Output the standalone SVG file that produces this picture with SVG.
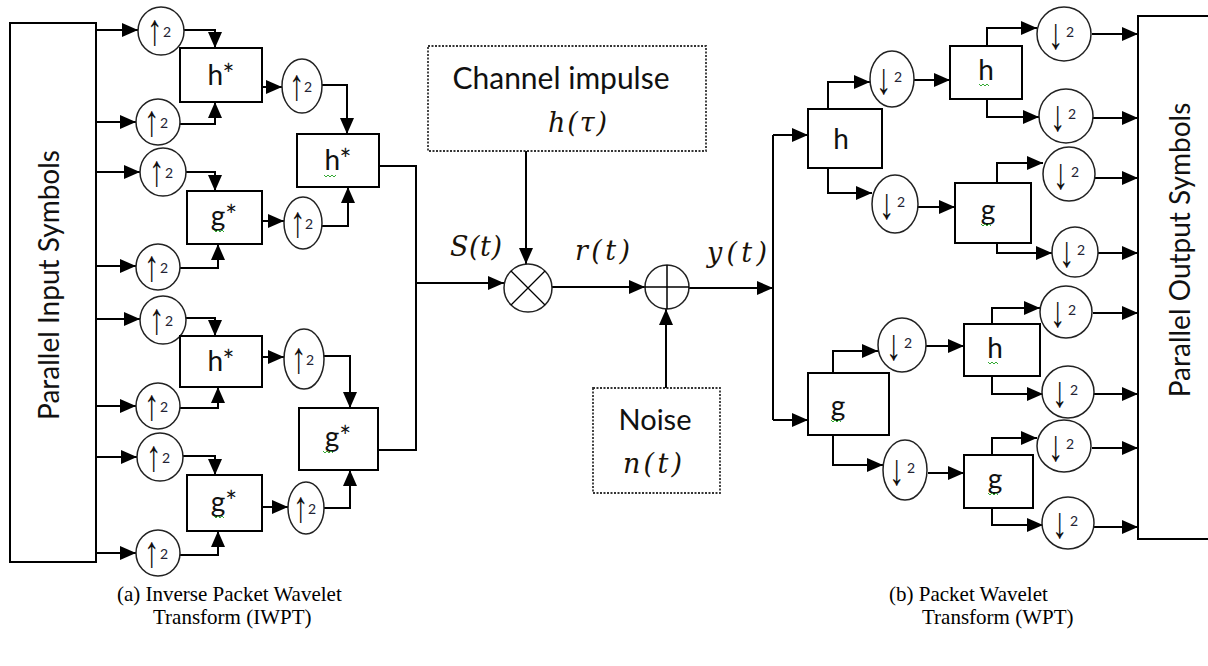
<svg xmlns="http://www.w3.org/2000/svg" width="1208" height="666" viewBox="0 0 1208 666">
<defs>
<marker id="ah" markerUnits="userSpaceOnUse" markerWidth="16" markerHeight="14" refX="16" refY="7" orient="auto">
<path d="M0,0 L16,7 L0,14 z" fill="#000"/>
</marker>
<style>
.box{fill:#fff;stroke:#000;stroke-width:2}
.dot{fill:#fff;stroke:#333;stroke-width:1.8;stroke-dasharray:2 1.5}
.cir{fill:#fff;stroke:#222;stroke-width:1.5}
.ln{fill:none;stroke:#000;stroke-width:2}
.arw{fill:none;stroke:#000;stroke-width:2;marker-end:url(#ah)}
.lbl{font-family:Lato,"Open Sans",sans-serif;font-size:28px;fill:#111;text-anchor:middle}
.sym{font-family:"Liberation Sans",sans-serif;font-size:44px;fill:#111}
.two{font-family:Lato,sans-serif;font-size:14px;fill:#223}
.math{font-family:"DejaVu Serif",serif;font-style:italic;font-size:27px;fill:#1a1208}
.cap{font-family:"Liberation Serif",serif;font-size:21px;fill:#000}
.sq{fill:none;stroke:#3a3;stroke-width:1}
</style>
</defs>

<g id="connectors">
<path class="arw" d="M92,30 H138"/>
<path class="arw" d="M96,122 H136"/>
<path class="arw" d="M96,172 H140"/>
<path class="arw" d="M96,266 H136"/>
<path class="arw" d="M96,319 H140"/>
<path class="arw" d="M96,406 H136"/>
<path class="arw" d="M92,457 H137"/>
<path class="arw" d="M96,553 H136"/>
<path class="arw" d="M184,30 H215 V48"/>
<path class="arw" d="M180,124 H215 V102"/>
<path class="arw" d="M262,87 H282"/>
<path class="arw" d="M322,85 H347 V134"/>
<path class="arw" d="M186,172 H215 V191"/>
<path class="arw" d="M180,268 H218 V244"/>
<path class="arw" d="M262,221 H284"/>
<path class="arw" d="M322,226 H348 V187"/>
<path class="arw" d="M186,318 H215 V336"/>
<path class="arw" d="M180,408 H218 V387"/>
<path class="arw" d="M262,357 H284"/>
<path class="arw" d="M324,356 H350 V408"/>
<path class="arw" d="M183,456 H215 V475"/>
<path class="arw" d="M180,555 H218 V531"/>
<path class="arw" d="M262,507 H288"/>
<path class="arw" d="M324,508 H350 V470"/>
<path class="ln" d="M379,166 H416 V450 H378"/>
<path class="arw" d="M416,283 H504"/>
<path class="arw" d="M526,151 V264"/>
<path class="arw" d="M552,287 H645"/>
<path class="arw" d="M666,388 V309"/>
<path class="arw" d="M689,288 H773"/>
<path class="ln" d="M773,135 V420"/>
<path class="arw" d="M773,135 H808"/>
<path class="arw" d="M773,420 H808"/>
<path class="arw" d="M828,109 V82 H870"/>
<path class="arw" d="M914,80 H950"/>
<path class="arw" d="M987,46 V28 H1037"/>
<path class="arw" d="M1092,34 H1138"/>
<path class="arw" d="M987,99 V117 H1039"/>
<path class="arw" d="M1093,118 H1138"/>
<path class="arw" d="M828,168 V193 H872"/>
<path class="arw" d="M918,207 H955"/>
<path class="arw" d="M997,183 V163 H1043"/>
<path class="arw" d="M1094,178 H1138"/>
<path class="arw" d="M997,243 V253 H1052"/>
<path class="arw" d="M1098,253 H1138"/>
<path class="arw" d="M833,373 V351 H878"/>
<path class="arw" d="M926,346 H964"/>
<path class="arw" d="M992,324 V308 H1040"/>
<path class="arw" d="M1093,313 H1138"/>
<path class="arw" d="M992,376 V394 H1043"/>
<path class="arw" d="M1094,394 H1138"/>
<path class="arw" d="M833,435 V465 H883"/>
<path class="arw" d="M928,473 H964"/>
<path class="arw" d="M992,455 V438 H1037"/>
<path class="arw" d="M1092,448 H1138"/>
<path class="arw" d="M992,508 V525 H1043"/>
<path class="arw" d="M1094,527 H1138"/>
</g>

<g id="input-box">
<rect class="box" x="10" y="23" width="86" height="539"/>
<text class="lbl" transform="translate(59,285) rotate(-90)">Parallel Input Symbols</text>
</g>

<g id="up1"><ellipse class="cir" cx="161" cy="31" rx="23" ry="24"/><text class="sym" transform="translate(147,45) scale(0.7,1)">↑</text><text class="two" x="163" y="37">2</text></g>
<g id="up2"><ellipse class="cir" cx="158" cy="122" rx="22" ry="23"/><text class="sym" transform="translate(144,136) scale(0.7,1)">↑</text><text class="two" x="160" y="128">2</text></g>
<g id="up3"><ellipse class="cir" cx="163" cy="172" rx="23" ry="24"/><text class="sym" transform="translate(149,186) scale(0.7,1)">↑</text><text class="two" x="165" y="178">2</text></g>
<g id="up4"><ellipse class="cir" cx="158" cy="267" rx="22" ry="23"/><text class="sym" transform="translate(144,281) scale(0.7,1)">↑</text><text class="two" x="160" y="273">2</text></g>
<g id="up5"><ellipse class="cir" cx="163" cy="320" rx="23" ry="24"/><text class="sym" transform="translate(149,334) scale(0.7,1)">↑</text><text class="two" x="165" y="326">2</text></g>
<g id="up6"><ellipse class="cir" cx="158" cy="406" rx="22" ry="23"/><text class="sym" transform="translate(144,420) scale(0.7,1)">↑</text><text class="two" x="160" y="412">2</text></g>
<g id="up7"><ellipse class="cir" cx="160" cy="457" rx="23" ry="24"/><text class="sym" transform="translate(146,471) scale(0.7,1)">↑</text><text class="two" x="162" y="463">2</text></g>
<g id="up8"><ellipse class="cir" cx="158" cy="553" rx="22" ry="23"/><text class="sym" transform="translate(144,567) scale(0.7,1)">↑</text><text class="two" x="160" y="559">2</text></g>

<g id="hstar1"><rect class="box" x="180" y="48" width="82" height="54"/><text class="lbl" x="221" y="85">h*</text></g>
<g id="gstar1"><rect class="box" x="187" y="191" width="75" height="53"/><text class="lbl" x="224" y="226">g*</text><path class="sq" d="M214,230 l2,2 l2,-2 l2,2 l2,-2 l2,2"/></g>
<g id="hstar3"><rect class="box" x="180" y="336" width="82" height="51"/><text class="lbl" x="221" y="371">h*</text></g>
<g id="gstar4"><rect class="box" x="187" y="475" width="75" height="56"/><text class="lbl" x="224" y="512">g*</text><path class="sq" d="M214,516 l2,2 l2,-2 l2,2 l2,-2 l2,2"/></g>

<g id="up9"><ellipse class="cir" cx="302" cy="86" rx="20" ry="27"/><text class="sym" transform="translate(289,100) scale(0.7,1)">↑</text><text class="two" x="304" y="92">2</text></g>
<g id="up10"><ellipse class="cir" cx="303" cy="223" rx="19" ry="26"/><text class="sym" transform="translate(290,237) scale(0.7,1)">↑</text><text class="two" x="305" y="229">2</text></g>
<g id="up11"><ellipse class="cir" cx="304" cy="359" rx="20" ry="30"/><text class="sym" transform="translate(291,373) scale(0.7,1)">↑</text><text class="two" x="306" y="365">2</text></g>
<g id="up12"><ellipse class="cir" cx="306" cy="508" rx="18" ry="26"/><text class="sym" transform="translate(293,522) scale(0.7,1)">↑</text><text class="two" x="308" y="514">2</text></g>

<g id="hstar2"><rect class="box" x="297" y="134" width="82" height="53"/><text class="lbl" x="338" y="170">h*</text><path class="sq" d="M324,175 l2,2 l2,-2 l2,2 l2,-2 l2,2 l2,-2"/></g>
<g id="gstar2"><rect class="box" x="299" y="408" width="79" height="62"/><text class="lbl" x="338" y="447">g*</text><path class="sq" d="M323,451 l2,2 l2,-2 l2,2 l2,-2 l2,2"/></g>

<g id="channel">
<rect class="dot" x="428" y="46" width="278" height="105"/>
<text class="lbl" style="font-size:30px" x="561" y="89">Channel impulse</text>
<text class="math" x="548" y="132" textLength="59" lengthAdjust="spacing">h(τ)</text>
</g>

<g id="multiplier">
<circle class="cir" cx="528" cy="288" r="24"/>
<path class="ln" style="stroke-width:1.3" d="M511,271 L545,305 M545,271 L511,305"/>
</g>

<g id="adder">
<circle class="cir" cx="667" cy="287" r="22"/>
<path class="ln" style="stroke-width:1.5" d="M645,287 H689 M667,265 V309"/>
</g>

<g id="noise">
<rect class="dot" x="593" y="388" width="127" height="105"/>
<text class="lbl" style="font-size:29px" x="655" y="430">Noise</text>
<text class="math" x="623" y="473" textLength="59" lengthAdjust="spacing">n(t)</text>
</g>

<g id="signal-labels">
<text class="math" x="450" y="256" textLength="52" lengthAdjust="spacing">S(t)</text>
<text class="math" x="575" y="260" textLength="55" lengthAdjust="spacing">r(t)</text>
<text class="math" x="707" y="262" textLength="60" lengthAdjust="spacing">y(t)</text>
</g>

<g id="h-big"><rect class="box" x="808" y="109" width="74" height="59"/><text class="lbl" x="841" y="149">h</text></g>
<g id="g-big"><rect class="box" x="808" y="373" width="81" height="62"/><text class="lbl" x="838" y="416">g</text><path class="sq" d="M831,420 l2,2 l2,-2 l2,2 l2,-2 l2,2"/></g>

<g id="dn1"><ellipse class="cir" cx="892" cy="79" rx="22" ry="28"/><text class="sym" transform="translate(876,94) scale(0.7,1)">↓</text><text class="two" x="894" y="82">2</text></g>
<g id="dn2"><ellipse class="cir" cx="895" cy="204" rx="23" ry="29"/><text class="sym" transform="translate(879,219) scale(0.7,1)">↓</text><text class="two" x="897" y="207">2</text></g>
<g id="dn3"><ellipse class="cir" cx="902" cy="345" rx="24" ry="27"/><text class="sym" transform="translate(886,360) scale(0.7,1)">↓</text><text class="two" x="904" y="348">2</text></g>
<g id="dn4"><ellipse class="cir" cx="905" cy="470" rx="22" ry="30"/><text class="sym" transform="translate(889,485) scale(0.7,1)">↓</text><text class="two" x="907" y="473">2</text></g>

<g id="h-2"><rect class="box" x="950" y="46" width="72" height="53"/><text class="lbl" x="986" y="80">h</text><path class="sq" d="M979,84 l2,2 l2,-2 l2,2 l2,-2 l2,2"/></g>
<g id="g-2"><rect class="box" x="955" y="183" width="76" height="60"/><text class="lbl" x="988" y="220">g</text><path class="sq" d="M981,224 l2,2 l2,-2 l2,2 l2,-2 l2,2"/></g>
<g id="h-3"><rect class="box" x="964" y="324" width="76" height="52"/><text class="lbl" x="995" y="358">h</text><path class="sq" d="M988,362 l2,2 l2,-2 l2,2 l2,-2 l2,2"/></g>
<g id="g-4"><rect class="box" x="964" y="455" width="69" height="53"/><text class="lbl" x="995" y="489">g</text><path class="sq" d="M988,493 l2,2 l2,-2 l2,2 l2,-2 l2,2"/></g>

<g id="dn5"><ellipse class="cir" cx="1064" cy="34" rx="27" ry="27"/><text class="sym" transform="translate(1048,49) scale(0.7,1)">↓</text><text class="two" x="1066" y="37">2</text></g>
<g id="dn6"><ellipse class="cir" cx="1066" cy="116" rx="27" ry="27"/><text class="sym" transform="translate(1050,131) scale(0.7,1)">↓</text><text class="two" x="1068" y="119">2</text></g>
<g id="dn7"><ellipse class="cir" cx="1069" cy="174" rx="26" ry="27"/><text class="sym" transform="translate(1053,189) scale(0.7,1)">↓</text><text class="two" x="1071" y="177">2</text></g>
<g id="dn8"><ellipse class="cir" cx="1075" cy="252" rx="23" ry="25"/><text class="sym" transform="translate(1059,267) scale(0.7,1)">↓</text><text class="two" x="1077" y="255">2</text></g>
<g id="dn9"><ellipse class="cir" cx="1066" cy="312" rx="26" ry="26"/><text class="sym" transform="translate(1050,327) scale(0.7,1)">↓</text><text class="two" x="1068" y="315">2</text></g>
<g id="dn10"><ellipse class="cir" cx="1068" cy="392" rx="26" ry="26"/><text class="sym" transform="translate(1052,407) scale(0.7,1)">↓</text><text class="two" x="1070" y="395">2</text></g>
<g id="dn11"><ellipse class="cir" cx="1064" cy="446" rx="27" ry="26"/><text class="sym" transform="translate(1048,461) scale(0.7,1)">↓</text><text class="two" x="1066" y="449">2</text></g>
<g id="dn12"><ellipse class="cir" cx="1068" cy="523" rx="26" ry="26"/><text class="sym" transform="translate(1052,538) scale(0.7,1)">↓</text><text class="two" x="1070" y="526">2</text></g>

<g id="output-box">
<path class="box" d="M1215,16 H1138 V539 H1215"/>
<text class="lbl" transform="translate(1190,250) rotate(-90)">Parallel Output Symbols</text>
</g>

<g id="captions">
<text class="cap" x="117" y="601">(a) Inverse Packet Wavelet</text>
<text class="cap" x="153" y="624">Transform (IWPT)</text>
<text class="cap" x="889" y="601">(b) Packet Wavelet</text>
<text class="cap" x="922" y="624">Transform (WPT)</text>
</g>
</svg>
